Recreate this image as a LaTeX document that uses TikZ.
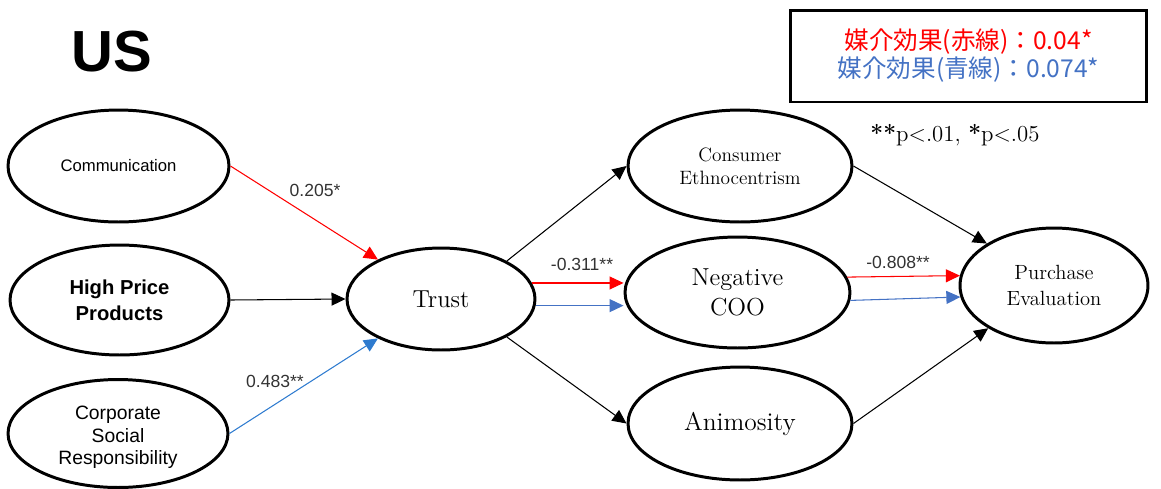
\documentclass[tikz,border=0pt]{standalone}
\usepackage{fontspec}
\setsansfont{Liberation Sans}
\newfontfamily\jpfont{Noto Sans CJK JP}
\usetikzlibrary{arrows.meta,shapes.geometric}
\definecolor{kirmiziCizgi}{HTML}{FF0000}
\definecolor{maviCizgi}{HTML}{4472C4}
\definecolor{acikMavi}{HTML}{2E7BCF}
\definecolor{koyuGri}{HTML}{333333}

\begin{document}
\begin{tikzpicture}[x=0.02cm,y=-0.02cm,
  oval/.style={ellipse,draw,line width=1.7pt,inner sep=0pt,align=center},
  yol/.style={-{Triangle[length=0.28cm,width=0.26cm]},line width=0.6pt},
  katsayi/.style={font=\sffamily\fontsize{10}{12}\selectfont,text=koyuGri}]
\useasboundingbox (0,0) rectangle (1161,488);
\node[font=\sffamily\bfseries\fontsize{33}{40}\selectfont] (baslik) at (112,52) {US};
\node[draw,line width=1.7pt,minimum width=7.14cm,minimum height=1.84cm,align=center,
  font=\jpfont\fontsize{14}{16}\selectfont] (kutu) at (968.5,56)
  {\textcolor{kirmiziCizgi}{媒介効果(赤線)：0.04*}\\\textcolor{maviCizgi}{媒介効果(青線)：0.074*}};
\node[font=\fontsize{13}{15}\selectfont] (not) at (955,135) {\textbf{**}p<.01, \textbf{*}p<.05};
% sol taraf
\node[oval,minimum width=4.42cm,minimum height=2.24cm,font=\sffamily\fontsize{9.5}{12}\selectfont] (iletisim) at (118.5,166) {Communication};
\node[oval,minimum width=4.38cm,minimum height=2.2cm,font=\sffamily\bfseries\fontsize{11.5}{14.8}\selectfont] (fiyat) at (119.5,300) {High Price\\Products};
\node[oval,minimum width=4.4cm,minimum height=2.16cm,font=\sffamily\fontsize{11}{13}\selectfont] (sosyal) at (118,433.5) {\raisebox{-0.08cm}[\height][\depth]{\begin{tabular}{@{}c@{}}Corporate\\Social\\Responsibility\end{tabular}}};
% orta
\node[oval,minimum width=3.76cm,minimum height=2.04cm,font=\fontsize{14}{17}\selectfont] (guven) at (441,299) {Trust};
\node[oval,minimum width=4.48cm,minimum height=2.24cm,font=\fontsize{11}{13}\selectfont] (etno) at (740,166) {Consumer\\Ethnocentrism};
\node[oval,minimum width=4.5cm,minimum height=2.22cm,font=\fontsize{14}{17}\selectfont] (coo) at (737.5,292.5) {Negative\\COO};
\node[oval,minimum width=4.48cm,minimum height=2.26cm,font=\fontsize{14.5}{17}\selectfont] (husumet) at (740,423.5) {Animosity};
% sag
\node[oval,minimum width=3.76cm,minimum height=2.3cm,font=\fontsize{11.7}{14.8}\selectfont] (satin) at (1054,285.5) {Purchase\\Evaluation};
% oklar
\draw[yol,kirmiziCizgi] (iletisim.east) -- (guven.148);
\draw[yol] (fiyat.east) -- (guven.west);
\draw[yol,acikMavi] (sosyal.east) -- (guven.212);
\draw[yol] (guven.30) -- (etno.west);
\draw[yol] (guven.-30) -- (husumet.west);
\draw[yol,kirmiziCizgi] (guven.10) -- (guven.10 -| coo.west);
\draw[yol,maviCizgi] (guven.-4) -- (guven.-4 -| coo.west);
\draw[yol,kirmiziCizgi] (coo.8) -- (satin.174);
\draw[yol,maviCizgi] (coo.-4) -- (satin.187);
\draw[yol] (etno.east) -- (satin.148);
\draw[yol] (husumet.east) -- (satin.213);
% katsayilar
\node[katsayi] (k1) at (315,190) {0.205*};
\node[katsayi] (k2) at (275,381) {0.483**};
\node[katsayi] (k3) at (582,264) {-0.311**};
\node[katsayi] (k4) at (898,262) {-0.808**};
\end{tikzpicture}
\end{document}
